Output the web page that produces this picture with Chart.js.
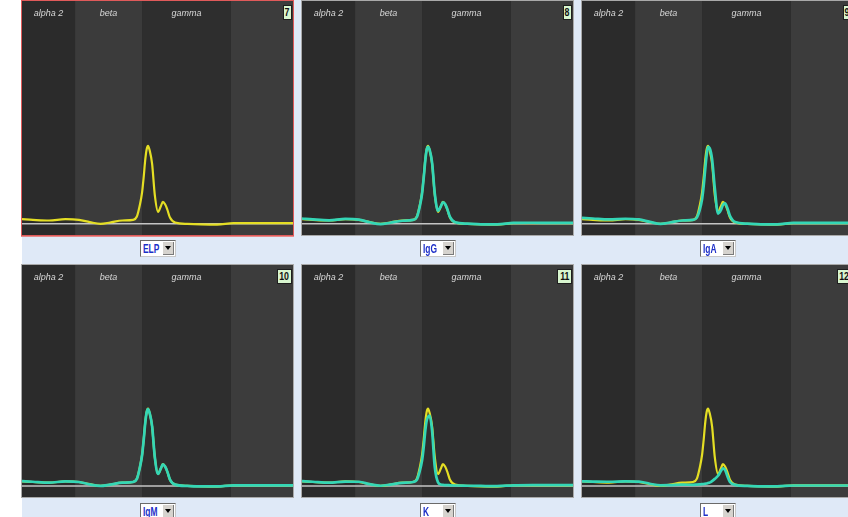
<!DOCTYPE html>
<html>
<head>
<meta charset="utf-8">
<script src="https://cdn.jsdelivr.net/npm/chart.js@4.4.1/dist/chart.umd.min.js"></script>
<style>
    html, body { margin: 0; padding: 0; background: #ffffff; }
    body { width: 848px; height: 517px; position: relative; overflow: hidden; font-family: 'Liberation Sans', Arial, sans-serif; }
    #screen { position: absolute; left: 22px; top: 0; width: 826px; height: 517px; background: #dfe9f7; }
    .panel { position: absolute; width: 271px; border: 1px solid #a9a9a9; background: #2c2c2c; }
    .panel.selected { border-color: #e05a5a; box-shadow: 0 1px 0 0 #e88a8a; }
    .panel canvas { display: block; }
    .num { position: absolute; top: 4px; right: 1px; height: 13px; background: #d8f6cf; border: 1px solid #1e1e1e; overflow: hidden; display: flex; align-items: center; justify-content: center; }
    .num span { display: block; font: bold 11px 'Liberation Sans', sans-serif; line-height: 11px; color: #111; transform: scaleX(0.8); }
    .combo { position: absolute; width: 34px; height: 15px; background: #fff; border: 1px solid #6a6a6a; border-right-color: #c8c8c8; border-bottom-color: #c8c8c8; }
    .combo span { position: absolute; left: 2px; top: 1px; font: bold 12px 'Liberation Sans', sans-serif; line-height: 14px; color: #1d2fc8; transform: scaleX(0.7); transform-origin: left center; }
    .combo i { position: absolute; right: 1px; top: 1px; width: 10px; height: 12px; background: #d6d3ce; border-right: 1px solid #7a7a7a; border-bottom: 1px solid #7a7a7a; }
    .combo i::after { content: ''; position: absolute; left: 2px; top: 4px; border-left: 3px solid transparent; border-right: 3px solid transparent; border-top: 4px solid #000; }
</style>
</head>
<body>
<div id="screen"></div>
<script>
// fraction bands along the mobility axis
const bandNames = ['alpha 2', 'beta', 'gamma', ''];
const bandEdges = [0, 19.6, 44.3, 77.1, 100];

// mobility positions shared by every trace
const mobility = [0, 4, 10, 16, 21, 25, 29, 32.5, 37, 41, 42.4, 43.4, 44.3, 44.9, 45.5, 46, 46.5, 47.1, 48, 49, 50.2, 51.2, 52, 52.8, 53.6, 54.6, 56.5, 61, 66, 72, 78, 85, 92, 100];

// reference electrophoresis trace (yellow)
const elp = [2.1, 1.8, 1.5, 2.1, 1.8, 0.8, 0, 0.6, 1.5, 1.8, 3.3, 8, 14, 21, 29, 33.5, 35, 33, 27, 13, 5.4, 7.8, 9.9, 8.8, 6.5, 2.8, 0.6, 0, -0.2, -0.3, 0.3, 0.3, 0.3, 0.3];

// immunosubtraction traces (cyan)
const igG = [2.4, 2.0, 1.6, 2.2, 1.9, 0.7, -0.1, 0.5, 1.4, 1.8, 3.1, 7.5, 13.5, 20.5, 28.5, 33.2, 34.6, 33.2, 27.5, 13.6, 5.8, 7.8, 9.7, 8.9, 6.7, 3.1, 0.7, 0.1, -0.2, -0.2, 0.4, 0.5, 0.4, 0.4];
const igA = [2.7, 2.4, 2.0, 2.3, 2.0, 0.9, 0, 0.6, 1.5, 1.8, 2.8, 6, 11, 17, 25, 31, 34.5, 34, 29, 16, 4.6, 6, 8.5, 9.2, 7.2, 3.6, 0.8, 0.1, -0.2, -0.2, 0.4, 0.4, 0.4, 0.4];
const igM = [2.2, 1.9, 1.5, 2.1, 1.8, 0.7, 0, 0.6, 1.5, 1.8, 3.2, 7.8, 13.8, 20.8, 28.8, 33.3, 34.8, 33, 27.2, 13.2, 5.5, 7.8, 9.8, 8.8, 6.6, 2.9, 0.6, 0, -0.2, -0.2, 0.3, 0.3, 0.3, 0.3];
const kappa = [2.2, 1.9, 1.5, 2.0, 1.9, 0.8, 0.1, 0.6, 1.4, 1.8, 2.8, 6.5, 11.5, 17.5, 25, 29.5, 31.3, 31.8, 25, 8.5, 1.6, 0.7, 0.5, 0.4, 0.4, 0.3, 0.2, 0.1, 0, -0.1, 0.3, 0.4, 0.4, 0.4];
const lambda = [2.1, 2.0, 1.9, 2.1, 2.0, 1.0, 0.3, 0.4, 0.6, 0.5, 0.6, 0.7, 0.8, 0.9, 1.0, 1.1, 1.3, 1.5, 2.2, 3.2, 4.6, 6.6, 8.0, 7.2, 4.6, 1.8, 0.5, 0, -0.2, -0.2, 0.2, 0.2, 0.2, 0.2];

const panelNumbers = ['7', '8', '9', '10', '11', '12'];
const panelNames = ['ELP', 'IgG', 'IgA', 'IgM', 'K', 'L'];
const panelTraces = [null, igG, igA, igM, kappa, lambda];

const bandColors = ['#2b2b2b', '#3b3b3b', '#2e2e2e', '#3c3c3c'];
const yellow = '#e4de24';
const cyan = '#34d6b6';

const toPoints = (ys) => mobility.map((x, i) => ({ x: x, y: ys[i] }));

// paints the fraction bands and their names behind the traces
const bandPlugin = {
    id: 'bands',
    beforeDatasetsDraw(chart) {
        const { ctx, chartArea, scales } = chart;
        ctx.save();
        for (let i = 0; i < bandNames.length; i++) {
            const x0 = scales.x.getPixelForValue(bandEdges[i]);
            const x1 = scales.x.getPixelForValue(bandEdges[i + 1]);
            ctx.fillStyle = bandColors[i];
            ctx.fillRect(x0, chartArea.top, x1 - x0, chartArea.bottom - chartArea.top);
            if (bandNames[i]) {
                ctx.font = 'italic 9px "Liberation Sans", Arial, sans-serif';
                ctx.fillStyle = '#d8d8d8';
                ctx.textAlign = 'center';
                ctx.textBaseline = 'middle';
                ctx.fillText(bandNames[i], (x0 + x1) / 2, chartArea.top + 12);
            }
        }
        ctx.restore();
    }
};

const lefts = [21, 301, 581];

panelNames.forEach((name, p) => {
    const row = Math.floor(p / 3);
    const col = p % 3;
    const top = row === 0 ? 0 : 264;
    const h = row === 0 ? 234 : 232;

    const panel = document.createElement('div');
    panel.className = 'panel' + (p === 0 ? ' selected' : '');
    panel.style.left = lefts[col] + 'px';
    panel.style.top = top + 'px';
    panel.style.height = h + 'px';
    const canvas = document.createElement('canvas');
    canvas.width = 271;
    canvas.height = h;
    panel.appendChild(canvas);
    const num = document.createElement('div');
    num.className = 'num';
    num.style.width = (panelNumbers[p].length * 6 + 1) + 'px';
    num.innerHTML = `<span>${panelNumbers[p]}</span>`;
    panel.appendChild(num);
    document.body.appendChild(panel);

    const combo = document.createElement('div');
    combo.className = 'combo';
    combo.style.left = (lefts[col] + 119) + 'px';
    combo.style.top = (row === 0 ? 240 : 503) + 'px';
    combo.innerHTML = `<span>${name}</span><i></i>`;
    document.body.appendChild(combo);

    const datasets = [];
    if (panelTraces[p]) {
        datasets.push({ data: toPoints(panelTraces[p]), borderColor: cyan, borderWidth: 2.7, order: 1 });
    }
    datasets.push({ data: toPoints(elp), borderColor: yellow, borderWidth: 2.2, order: 2 });
    datasets.push({ data: [{ x: 0, y: 0 }, { x: 100, y: 0 }], borderColor: '#c4c4c4', borderWidth: 1.5, order: 3, cubicInterpolationMode: 'default', tension: 0 });

    new Chart(canvas.getContext('2d'), {
        type: 'line',
        data: { datasets: datasets },
        options: {
            responsive: false,
            animation: false,
            events: [],
            layout: { padding: 0 },
            elements: { point: { radius: 0 }, line: { cubicInterpolationMode: 'monotone', fill: false } },
            scales: {
                x: { type: 'linear', min: 0, max: 100, display: false },
                y: { min: -5, max: 100, display: false }
            },
            plugins: { legend: { display: false }, tooltip: { enabled: false } }
        },
        plugins: [bandPlugin]
    });
});
</script>
</body>
</html>
